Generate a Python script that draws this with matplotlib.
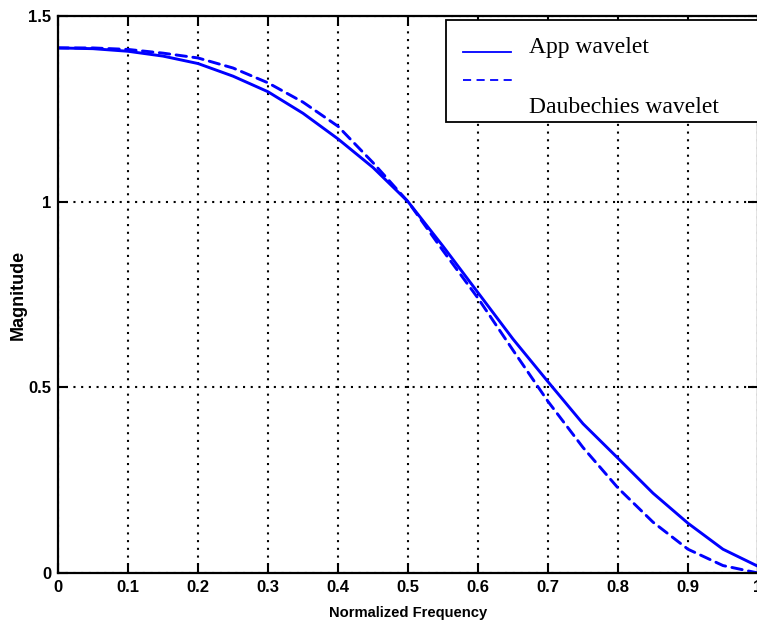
#!/usr/bin/env python3
""" Magnitude response: App wavelet vs Daubechies wavelet """

import matplotlib
matplotlib.use('Agg')
import matplotlib.pyplot as plt
from matplotlib.font_manager import FontProperties
from matplotlib.patches import Rectangle
from matplotlib.lines import Line2D

freq = [0.0, 0.05, 0.1, 0.15, 0.2, 0.25, 0.3, 0.35, 0.4, 0.45, 0.5,
        0.55, 0.6, 0.65, 0.7, 0.75, 0.8, 0.85, 0.9, 0.95, 1.0]
app_mag = [1.414, 1.412, 1.405, 1.392, 1.372, 1.338, 1.296, 1.238, 1.169, 1.092, 1.000,
           0.880, 0.755, 0.630, 0.515, 0.402, 0.309, 0.215, 0.134, 0.064, 0.018]
daub_mag = [1.414, 1.414, 1.410, 1.400, 1.387, 1.360, 1.320, 1.268, 1.203, 1.105, 1.000,
            0.868, 0.740, 0.600, 0.462, 0.338, 0.229, 0.137, 0.064, 0.020, 0.000]
labels = ['App wavelet', 'Daubechies wavelet']
xticks = [0, 0.1, 0.2, 0.3, 0.4, 0.5, 0.6, 0.7, 0.8, 0.9, 1]
xticklabels = ['0', '0.1', '0.2', '0.3', '0.4', '0.5', '0.6', '0.7', '0.8', '0.9', '1']
yticks = [0, 0.5, 1, 1.5]
yticklabels = ['0', '0.5', '1', '1.5']

fig = plt.figure(figsize=(7.57, 6.30), dpi=100)
ax = fig.add_axes([58 / 757, 57 / 630, 700 / 757, 557 / 630])

ax.plot(freq, app_mag, color='#0000ff', lw=2.1, solid_capstyle='round')
ax.plot(freq, daub_mag, color='#0000ff', lw=2.1, linestyle=(0, (3.6, 2.2)),
        dash_capstyle='round')

ax.set_xlim(0, 1)
ax.set_ylim(0, 1.5)
ax.set_xticks(xticks)
ax.set_xticklabels(xticklabels)
ax.set_yticks(yticks)
ax.set_yticklabels(yticklabels)

tick_font = FontProperties(family='Liberation Sans', weight='bold', size=12)
for lab in ax.get_xticklabels() + ax.get_yticklabels():
    lab.set_fontproperties(tick_font)

ax.tick_params(direction='in', length=7, width=1.5, top=True, right=True,
               pad=5, colors='black')
ax.grid(True, color='black', linestyle=(0, (1, 2.7)), linewidth=1.5)
for sp in ax.spines.values():
    sp.set_linewidth(1.6)

ax.set_xlabel('Normalized Frequency', family='Liberation Sans', weight='bold',
              size=10.6, labelpad=8)
ax.set_ylabel('Magnitude', family='Liberation Sans', weight='bold',
              size=13, labelpad=1)

# legend box, MATLAB style (second label wraps below its handle)
box = Rectangle((0.554, 0.810), 0.47, 0.183, transform=ax.transAxes,
                facecolor='white', edgecolor='black', lw=1.3, zorder=5,
                clip_on=False)
ax.add_patch(box)
ax.add_line(Line2D([0.579, 0.647], [0.935, 0.935], transform=ax.transAxes,
                   color='#0000ff', lw=1.3, zorder=6))
ax.add_line(Line2D([0.579, 0.653], [0.885, 0.885], transform=ax.transAxes,
                   color='#0000ff', lw=1.3, linestyle=(0, (4.5, 3)), zorder=6))
ax.text(0.673, 0.943, labels[0], transform=ax.transAxes, va='center', ha='left',
        family='Liberation Serif', size=17, zorder=6)
ax.text(0.673, 0.835, labels[1], transform=ax.transAxes, va='center', ha='left',
        family='Liberation Serif', size=17, zorder=6)

plt.savefig('out.png', dpi=100)
